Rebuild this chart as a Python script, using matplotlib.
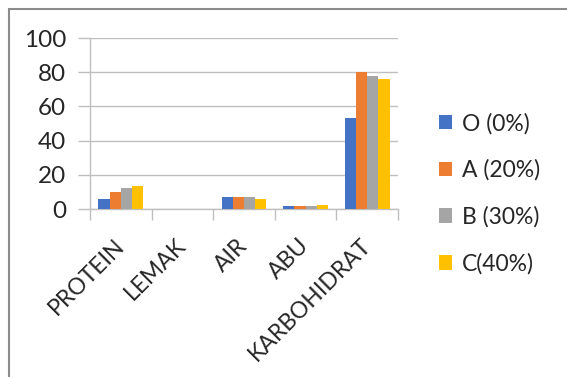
import matplotlib.pyplot as plt
import numpy as np
from matplotlib.patches import Rectangle

categories = ['PROTEIN', 'LEMAK', 'AIR', 'ABU', 'KARBOHIDRAT']
series_names = ['O (0%)', 'A (20%)', 'B (30%)', 'C(40%)']
o_vals = [6.0, 0, 6.8, 1.6, 53.2]
a_vals = [9.9, 0, 6.8, 1.6, 79.9]
b_vals = [12.1, 0, 6.8, 1.5, 78.0]
c_vals = [13.6, 0, 6.0, 2.3, 75.8]
colors = ['#4472C4', '#ED7D31', '#A5A5A5', '#FFC000']

plt.rcParams['font.family'] = ['Lato', 'DejaVu Sans']
text_color = '#262626'
line_color = '#bfbfbf'

fig = plt.figure(figsize=(5.67, 3.77), dpi=100)
ax = fig.add_axes([0.1587, 0.4456, 0.5433, 0.4536])

x = np.arange(len(categories))
width = 0.1825
for i, vals in enumerate([o_vals, a_vals, b_vals, c_vals]):
    ax.bar(x + (i - 1.5) * width, vals, width, color=colors[i],
           label=series_names[i], zorder=3)

ax.set_xlim(-0.5, len(categories) - 0.5)
ax.set_ylim(0, 100)
ax.set_yticks([0, 20, 40, 60, 80, 100])
ax.yaxis.grid(True, color=line_color, linewidth=1, zorder=0)

# category labels between boundary ticks, like Excel
ax.set_xticks(x)
ax.set_xticklabels(categories, rotation=45, ha='right', va='center',
                   rotation_mode='anchor')
ax.tick_params(axis='x', which='major', length=0, pad=24, labelsize=16.5,
               labelcolor=text_color)
ax.set_xticks(np.arange(-0.5, len(categories)), minor=True)
ax.tick_params(axis='x', which='minor', length=8, width=1, color=line_color,
               direction='out')
ax.tick_params(axis='y', length=9, width=1, color=line_color, labelsize=17.5,
               labelcolor=text_color, pad=8)

for s in ['top', 'right']:
    ax.spines[s].set_visible(False)
for s in ['left', 'bottom']:
    ax.spines[s].set_color(line_color)
    ax.spines[s].set_linewidth(1)

ax.legend(loc='center left', bbox_to_anchor=(1.065, 0.09), frameon=False,
          fontsize=16.5, handlelength=0.6, handleheight=0.6, handletextpad=0.4,
          labelspacing=1.1, labelcolor=text_color)

# outer chart border
fig.patches.append(Rectangle((8.5 / 567, -0.01), 1.1, 1 - 8.5 / 377 + 0.01,
                             transform=fig.transFigure, fill=False,
                             edgecolor='#8c8c8c', linewidth=1.5))

fig.savefig('out.png', dpi=100)
